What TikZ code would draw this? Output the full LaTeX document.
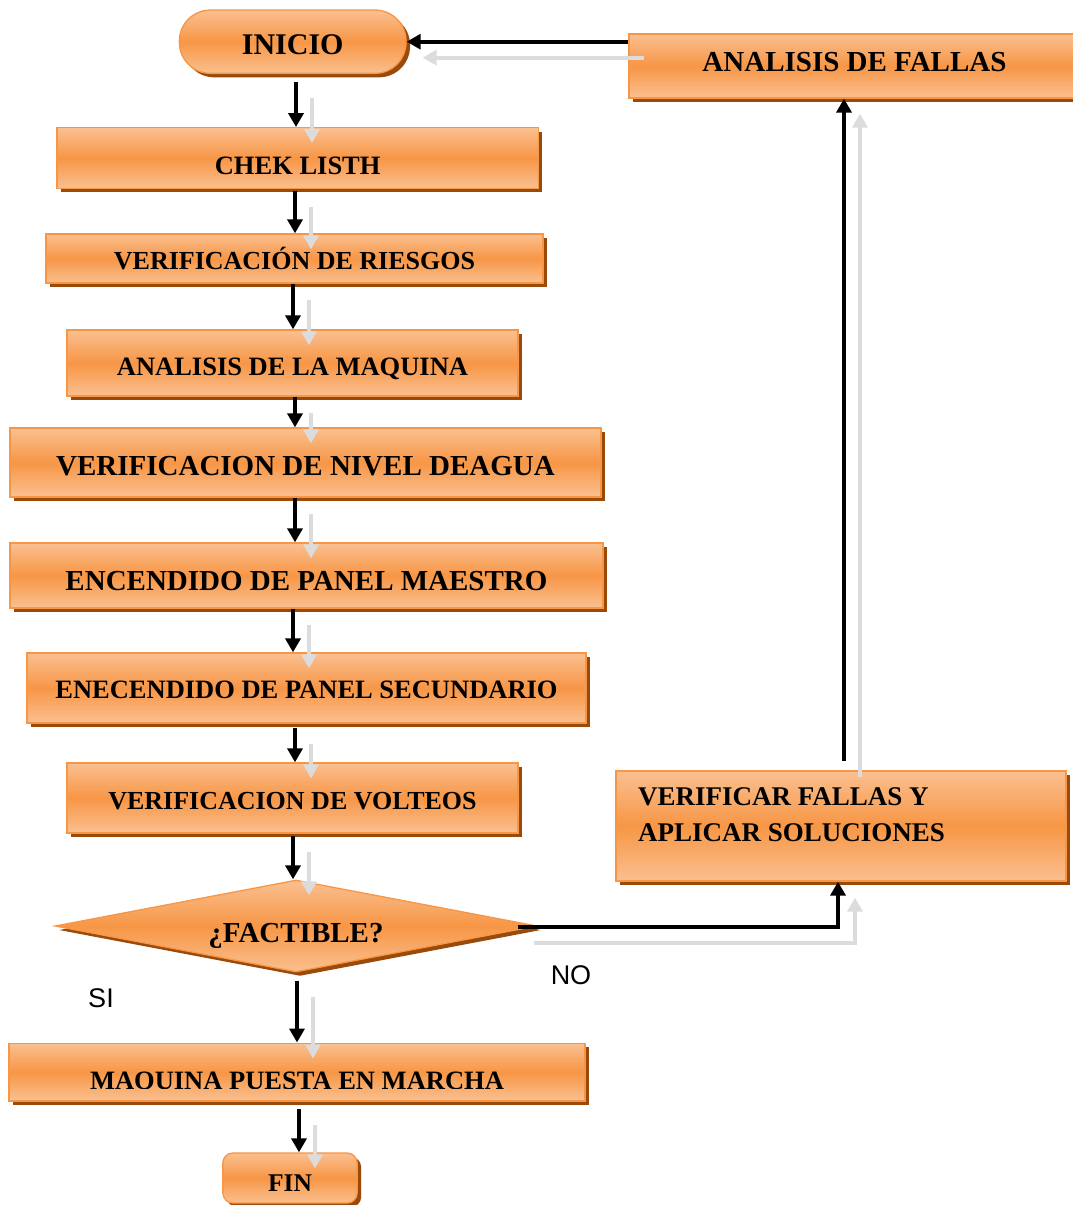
\documentclass[tikz,border=0pt]{standalone}
\usepackage{fontspec}
\setmainfont{Liberation Serif}
\newfontfamily\labelfont{Liberation Sans}
\usetikzlibrary{shapes.geometric,shadows,arrows.meta,calc}
\definecolor{orlight}{HTML}{FAC090}
\definecolor{ormid}{HTML}{F79646}
\definecolor{brn}{HTML}{9A4A0A}
\definecolor{shadegrey}{HTML}{DCDCDC}
\newcommand\fsz[1]{\fontsize{#1}{#1}\selectfont\bfseries}
\tikzset{
  orfill/.style={top color=orlight, bottom color=orlight, middle color=ormid,
    draw=ormid, line width=1.3pt,
    drop shadow={shadow xshift=4pt, shadow yshift=-4pt, fill=brn, opacity=1}},
  procbox/.style={orfill, rectangle, inner sep=0pt, text depth=0pt},
  blk/.style={draw=black, line width=4pt, -{Triangle[width=15pt,length=14pt]}},
  gry/.style={draw=shadegrey, line width=4pt, -{Triangle[width=15pt,length=14pt]}},
  yesno/.style={font=\labelfont\fontsize{27}{27}\selectfont, inner sep=0pt}
}
% vertical link with its light offset copy:
% #1 source, #2 target, #3 x position, #4 gap below source
\newcommand\flowlink[4]{%
  \draw[gry] ($(#1.south -| #3,0)+(16,#4+16)$) -- ($(#2.north -| #3,0)+(16,16)$);
  \draw[blk] ($(#1.south -| #3,0)+(0,#4)$) -- (#2.north -| #3,0);
}
\begin{document}
\begin{tikzpicture}[x=1pt,y=-1pt]
\fill[white] (0,0) rectangle (1072,1205);
\useasboundingbox (0,0) rectangle (1072,1205);

% main column
\node[procbox, rounded corners=31pt, minimum width=226.7pt, minimum height=63.3pt,
  font=\fsz{30}, text height=25.9pt] (inicio) at (292.7,41.7) {INICIO};
\node[procbox, minimum width=481.3pt, minimum height=60.6pt,
  font=\fsz{26.5}, text height=33.5pt] (chk) at (297.7,158) {CHEK LISTH};
\node[procbox, minimum width=497pt, minimum height=49pt,
  font=\fsz{26}, text height=22.2pt] (ries) at (294.5,258.5) {VERIFICACIÓN DE RIESGOS};
\node[procbox, minimum width=451pt, minimum height=66pt,
  font=\fsz{26.5}, text height=25.5pt] (maq) at (292.5,363) {ANALISIS DE LA MAQUINA};
\node[procbox, minimum width=591pt, minimum height=69pt,
  font=\fsz{29}, text height=26.2pt] (agua) at (305.5,462.5) {VERIFICACION DE NIVEL DEAGUA};
\node[procbox, minimum width=593pt, minimum height=65pt,
  font=\fsz{29}, text height=30.2pt] (maes) at (306.5,575.5) {ENCENDIDO DE PANEL MAESTRO};
\node[procbox, minimum width=559pt, minimum height=70pt,
  font=\fsz{26.5}, text height=21.5pt] (secu) at (306.5,688) {ENECENDIDO DE PANEL SECUNDARIO};
\node[procbox, minimum width=451pt, minimum height=70pt,
  font=\fsz{26}, text height=23.2pt] (volt) at (292.5,798) {VERIFICACION DE VOLTEOS};
\node[orfill, diamond, shape aspect=5.2, inner sep=0pt, minimum width=482pt,
  minimum height=92pt, font=\fsz{29}, text height=33.2pt, text depth=0pt]
  (fact) at (296,926) {¿FACTIBLE?};
\node[procbox, minimum width=576pt, minimum height=57.7pt] (marcha) at (297,1072) {};
\begin{scope}
  \clip (0,0) rectangle (1072,1088.5);
  \node[anchor=base, inner sep=0pt, font=\fsz{26.5}] (marchatxt) at (297,1089)
    {MAQUINA PUESTA EN MARCHA};
\end{scope}
\node[procbox, rounded corners=10pt, minimum width=134.3pt, minimum height=50pt,
  font=\fsz{25.5}, text height=26.9pt] (fin) at (290,1178) {FIN};

% right column
\node[procbox, minimum width=451pt, minimum height=64pt,
  font=\fsz{29}, text height=19.2pt, text depth=8pt] (fallas) at (854.5,66) {ANALISIS DE FALLAS};
\node[procbox, minimum width=450pt, minimum height=110pt] (soluc) at (841,826) {};
\node[anchor=north west, inner sep=0pt, align=left, font=\fontsize{27}{36.7}\selectfont\bfseries]
  (soluctxt) at (638,787) {VERIFICAR FALLAS Y\\APLICAR SOLUCIONES};

% decision labels
\node[yesno] (si) at (101,998) {SI};
\node[yesno] (no) at (571,975) {NO};

% straight links
\flowlink{inicio}{chk}{296}{8}
\flowlink{chk}{ries}{295}{2}
\flowlink{ries}{maq}{293}{0}
\flowlink{maq}{agua}{295}{0}
\flowlink{agua}{maes}{295}{0}
\flowlink{maes}{secu}{293}{0}
\flowlink{secu}{volt}{295}{4}
\flowlink{volt}{fact}{293}{2}
\flowlink{fact}{marcha}{297}{8}
\flowlink{marcha}{fin}{299}{7.5}

% NO branch and return loop
\draw[gry] ($(fact.east)+(-4,17)$) -| ($(soluc.south)+(14,16)$);
\draw[blk] ($(fact.east)+(-20,1)$) -| ($(soluc.south)+(-3,0)$);
\draw[gry] ($(soluc.north)+(19,7)$) -- ($(fallas.south)+(5.5,15)$);
\draw[blk] ($(soluc.north)+(3,-9)$) -- ($(fallas.south)+(-10.5,0)$);
\draw[gry] ($(inicio.east -| fallas.west)+(16,16)$) -- ($(inicio.east)+(16,16)$);
\draw[blk] (inicio.east -| fallas.west) -- (inicio.east);
\end{tikzpicture}
\end{document}
